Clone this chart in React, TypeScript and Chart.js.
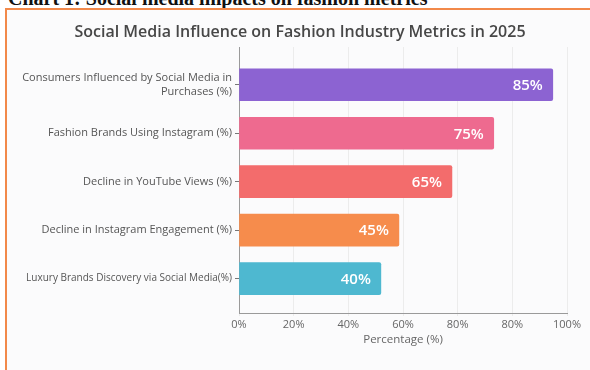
import React, { useEffect, useRef } from "react";
import { Chart, registerables } from "chart.js";

Chart.register(...registerables);

const chartTitle = "Social Media Influence on Fashion Industry Metrics in 2025";
const categories: (string | string[])[] = [
  ["Consumers Influenced by Social Media in", "Purchases (%)"],
  "Fashion Brands Using Instagram (%)",
  "Decline in YouTube Views (%)",
  "Decline in Instagram Engagement (%)",
  "Luxury Brands Discovery via Social Media(%)",
];
// bar lengths as drawn against the (oddly labelled) x-axis, in axis units
const barLengths = [114.8, 93.2, 77.9, 58.5, 51.9];
// printed value labels on the bars
const valueLabels = ["85%", "75%", "65%", "45%", "40%"];
const barColors = ["#8c63d2", "#ee6a8f", "#f36c6c", "#f68c4c", "#4eb8d0"];
const xTickLabels = ["0%", "20%", "40%", "60%", "80%", "80%", "100%"];

const FONT = "'Open Sans', 'Noto Sans', sans-serif";

const valueLabelPlugin = {
  id: "valueLabels",
  afterDatasetsDraw(chart: any) {
    const ctx = chart.ctx;
    const meta = chart.getDatasetMeta(0);
    ctx.save();
    ctx.font = `600 15px ${FONT}`;
    ctx.fillStyle = "#ffffff";
    ctx.textAlign = "right";
    ctx.textBaseline = "middle";
    meta.data.forEach((bar: any, i: number) => {
      ctx.fillText(valueLabels[i], bar.x - 10, bar.y + 1);
    });
    ctx.restore();
  },
};

const titlePlugin = {
  id: "centeredTitle",
  afterDraw(chart: any) {
    const ctx = chart.ctx;
    ctx.save();
    ctx.font = `600 16px ${FONT}`;
    ctx.fillStyle = "#474747";
    ctx.textAlign = "center";
    ctx.textBaseline = "middle";
    ctx.fillText(chartTitle, 300, 32);
    ctx.restore();
  },
};

export default function App() {
  const ref = useRef<HTMLCanvasElement | null>(null);

  useEffect(() => {
    if (!ref.current) return;
    const chart = new Chart(ref.current, {
      type: "bar",
      data: {
        datasets: [
          {
            data: barLengths.map((v, i) => ({ x: v, y: i })) as any,
            backgroundColor: barColors,
            borderRadius: 2,
            barThickness: 32,
          },
        ],
      },
      options: {
        indexAxis: "y",
        animation: false,
        responsive: false,
        maintainAspectRatio: false,
        layout: { padding: { left: 0, right: 23, top: 47, bottom: 19 } },
        plugins: {
          legend: { display: false },
          tooltip: { enabled: false },
          title: { display: false },
        },
        scales: {
          x: {
            type: "linear",
            min: 0,
            max: 120,
            ticks: {
              stepSize: 20,
              color: "#666",
              font: { family: FONT, size: 11 },
              padding: 2,
              callback: (_v: any, index: number) => xTickLabels[index],
            },
            grid: { color: "#ececec", tickLength: 3 },
            border: { display: true, color: "#9a9a9a" },
            title: {
              display: true,
              text: "Percentage (%)",
              color: "#666",
              font: { family: FONT, size: 11.5 },
              padding: { top: 0, bottom: 4 },
            },
          },
          y: {
            type: "linear",
            reverse: true,
            offset: false,
            min: -0.78,
            max: 4.71,
            afterFit: (scale: any) => {
              scale.width = 239;
            },
            ticks: {
              stepSize: 1,
              autoSkip: false,
              color: "#555",
              font: (c: any) => ({
                family: FONT,
                size: c.tick && c.tick.value === 4 ? 10 : 11,
                lineHeight: 1.35,
              }),
              padding: 3,
              callback: (v: any) =>
                Number.isInteger(v) && v >= 0 && v < categories.length
                  ? (categories[v] as any)
                  : "",
            },
            grid: {
              offset: false,
              drawOnChartArea: false,
              drawTicks: true,
              tickLength: 4,
              color: (c: any) =>
                c.tick && Number.isInteger(c.tick.value) ? "#777" : "rgba(0,0,0,0)",
            },
            border: { display: true, color: "#9a9a9a" },
          },
        },
      },
      plugins: [valueLabelPlugin, titlePlugin],
    });
    return () => chart.destroy();
  }, []);

  return (
    <div
      style={{
        position: "fixed",
        left: 0,
        top: 0,
        width: 590,
        height: 370,
        overflow: "hidden",
        background: "#ffffff",
      }}
    >
      <div
        style={{
          position: "absolute",
          left: 8,
          top: -12,
          fontFamily: "'Liberation Serif', 'Times New Roman', serif",
          fontWeight: "bold",
          fontSize: 20,
          lineHeight: "20px",
          color: "#111",
          whiteSpace: "nowrap",
        }}
      >
        Chart 1: Social media impacts on fashion metrics
      </div>
      <div
        style={{
          position: "absolute",
          left: 5,
          top: 8,
          width: 620,
          height: 420,
          border: "2px solid #f2894a",
          background: "#fbfbfc",
        }}
      />
      <canvas
        ref={ref}
        width={590}
        height={370}
        style={{ position: "absolute", left: 0, top: 0, width: 590, height: 370 }}
      />
    </div>
  );
}
